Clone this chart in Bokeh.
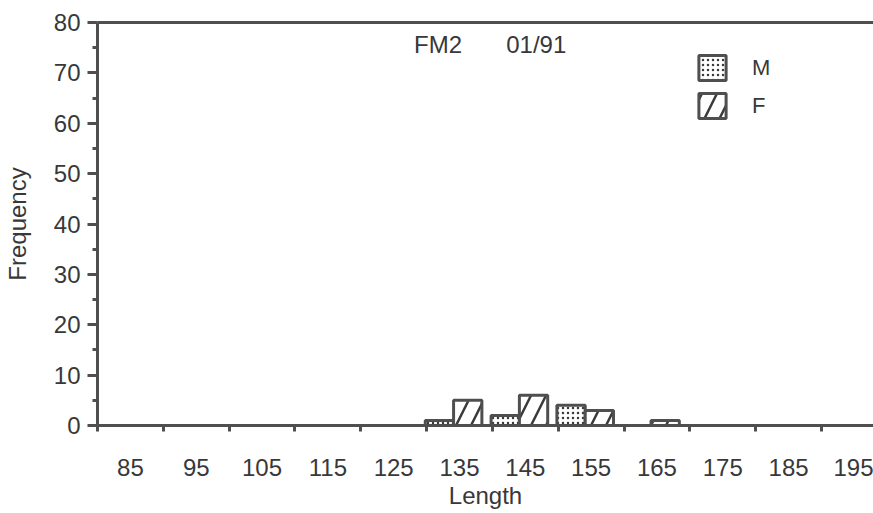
from bokeh.plotting import figure
from bokeh.models import (ColumnDataSource, FixedTicker, LinearAxis, Legend,
                          LegendItem, Label, Range1d)
from bokeh.embed import file_html
from bokeh.resources import INLINE

# ---- data ----
bin_centers = [85, 95, 105, 115, 125, 135, 145, 155, 165, 175, 185, 195]
bin_width = 10
m_counts = [0, 0, 0, 0, 0, 1, 2, 4, 0, 0, 0, 0]
f_counts = [0, 0, 0, 0, 0, 5, 6, 3, 1, 0, 0, 0]
tick_labels = [str(c) for c in bin_centers]
title_left = "FM2"
title_right = "01/91"

LINE = "#4f4f4f"
TEXT = "#383838"
FONT = "Liberation Sans"

p = figure(width=873, height=513, output_backend="svg", toolbar_location=None,
           x_range=Range1d(80, 197.9), y_range=Range1d(0, 80),
           min_border_left=97, min_border_right=0, min_border_top=22,
           min_border_bottom=88, x_axis_location=None, y_axis_location=None)
p.outline_line_color = None
p.grid.visible = False
p.background_fill_color = "white"
p.border_fill_color = "white"

bar_frac = 4.3

def bars(counts, offset):
    lefts, rights, tops = [], [], []
    for c, n in zip(bin_centers, counts):
        if n > 0:
            lo = c - bin_width / 2
            lefts.append(lo + offset)
            rights.append(lo + offset + bar_frac)
            tops.append(n)
    return ColumnDataSource(dict(left=lefts, right=rights, top=tops,
                                 bottom=[0] * len(tops)))

rm = p.quad(left="left", right="right", top="top", bottom="bottom",
            source=bars(m_counts, -0.2), fill_color="white", line_color=LINE,
            line_width=3, hatch_pattern="dot", hatch_color="#3a3a3a",
            hatch_scale=5, hatch_weight=2.2)
rf = p.quad(left="left", right="right", top="top", bottom="bottom",
            source=bars(f_counts, -0.2 + bar_frac), fill_color="white",
            line_color=LINE, line_width=3, hatch_pattern="right_diagonal_line",
            hatch_color="#3a3a3a", hatch_scale=30, hatch_weight=2.5)

# y axis
yax = LinearAxis(ticker=FixedTicker(ticks=list(range(0, 81, 10)),
                                    minor_ticks=list(range(5, 80, 10))))
yax.axis_label = "Frequency"
yax.axis_line_color = LINE
yax.axis_line_width = 3
yax.major_tick_line_color = LINE
yax.major_tick_line_width = 3
yax.major_tick_out = 10
yax.major_tick_in = 0
yax.minor_tick_line_color = LINE
yax.minor_tick_line_width = 3
yax.minor_tick_out = 5
yax.minor_tick_in = 0
yax.major_label_standoff = 7
yax.major_label_text_font = FONT
yax.major_label_text_font_size = "24px"
yax.major_label_text_color = TEXT
yax.axis_label_text_font = FONT
yax.axis_label_text_font_size = "24px"
yax.axis_label_text_font_style = "normal"
yax.axis_label_text_color = TEXT
yax.axis_label_standoff = 20
p.add_layout(yax, "left")

# x axis: labels at bin centres, ticks at bin edges
edges = [c - bin_width / 2 for c in bin_centers] + [bin_centers[-1] + bin_width / 2]
xax = LinearAxis(ticker=FixedTicker(ticks=bin_centers, minor_ticks=edges))
xax.major_label_overrides = {c: t for c, t in zip(bin_centers, tick_labels)}
xax.axis_label = "Length"
xax.axis_line_color = LINE
xax.axis_line_width = 3
xax.major_tick_line_color = None
xax.major_tick_out = 0
xax.major_tick_in = 0
xax.minor_tick_line_color = LINE
xax.minor_tick_line_width = 3
xax.minor_tick_out = 6
xax.minor_tick_in = 0
xax.major_label_standoff = 27
xax.major_label_text_font = FONT
xax.major_label_text_font_size = "24px"
xax.major_label_text_color = TEXT
xax.axis_label_text_font = FONT
xax.axis_label_text_font_size = "24px"
xax.axis_label_text_font_style = "normal"
xax.axis_label_text_color = TEXT
xax.axis_label_standoff = 3
p.add_layout(xax, "below")

# top frame line
tax = LinearAxis(ticker=FixedTicker(ticks=[]))
tax.axis_line_color = LINE
tax.axis_line_width = 3
tax.major_tick_line_color = None
tax.minor_tick_line_color = None
tax.major_label_text_font_size = "0px"
p.add_layout(tax, "above")

# title texts
for tx, xx in ((title_left, 128.1), (title_right, 142.1)):
    p.add_layout(Label(x=xx, y=73.0, text=tx, text_font=FONT,
                       text_font_size="24px", text_color=TEXT))

legend = Legend(items=[LegendItem(label="M", renderers=[rm]),
                       LegendItem(label="F", renderers=[rf])],
                location=(598, 304), orientation="vertical",
                padding=0, margin=0, spacing=7, glyph_width=34,
                glyph_height=31, label_height=31, label_standoff=23,
                label_text_font=FONT, label_text_font_size="22px",
                label_text_color=TEXT, border_line_color=None,
                background_fill_alpha=0)
p.add_layout(legend, "center")

open("out.html", "w").write(file_html(p, INLINE))
